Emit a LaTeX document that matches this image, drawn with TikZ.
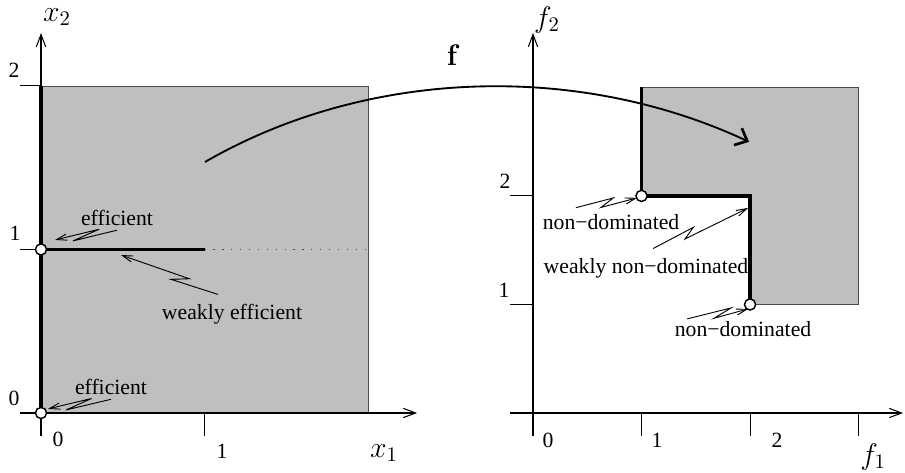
\documentclass[tikz,border=0pt]{standalone}
\usepackage[no-math]{fontspec}
\setmainfont{Liberation Serif}
\usetikzlibrary{calc,arrows.meta}

\begin{document}
\begin{tikzpicture}[
		axis/.style={-{Straight Barb[length=6pt,width=4.5pt]}, line width=0.5pt},
		tick/.style={line width=0.5pt},
		region/.style={fill=gray!50, draw=black!70, line width=0.4pt},
		front/.style={line width=1.6pt},
		dotline/.style={black!70, line width=0.6pt, dash pattern=on 0.6pt off 3.7pt},
		point/.style={circle, draw, fill=white, line width=0.7pt, inner sep=0pt, minimum size=5.4pt},
		lab/.style={font=\fontsize{14.4}{16}\selectfont},
		num/.style={font=\fontsize{10.5}{12}\selectfont},
		note/.style={font=\fontsize{10.5}{12}\selectfont, inner sep=2pt},
		pointer/.style={-{Straight Barb[length=5pt,width=3pt]}, line width=0.45pt},
		zig/.style 2 args={to path={
				-- ($(\tikztostart)!#1!(\tikztotarget)!1.8pt!90:(\tikztotarget)$)
				-- ($(\tikztostart)!#2!(\tikztotarget)!1.8pt!-90:(\tikztotarget)$)
				-- (\tikztotarget) \tikztonodes}},
		mapping/.style={-{Straight Barb[length=5pt,width=9pt,line width=1.3pt]}, line width=0.9pt}
	]
	
	% Parameters
	\def\uL{2.78}  % decision space unit
	\def\uR{1.845} % objective space unit
	
	\useasboundingbox (0,0) rectangle (15.385,8.041);
	
	% Decision space
	\begin{scope}[shift={(0.697,1.02)}, x=\uL cm, y=\uL cm]
		\draw[region] (0,0) rectangle (2,2);
		\draw[dotline] (1,1) -- (2,1);
		
		\draw[axis] (-0.128,0) -- (2.30,0);
		\draw[axis] (0,-0.14) -- (0,2.324);
		\draw[tick] (1,0) -- (1,-0.14);
		\foreach \y in {1,2} {
			\draw[tick] (-0.128,\y) -- (0,\y);
		}
		
		\node[num] at (-0.165,0.092) {0};
		\node[num] at (-0.159,1.10) {1};
		\node[num] at (-0.165,2.098) {2};
		\node[num] at (0.104,-0.159) {0};
		\node[num] at (1.107,-0.232) {1};
		\node[lab] at (2.098,-0.245) {$x_1$};
		\node[lab] at (0.098,2.422) {$x_2$};
		
		\draw[front] (0,0) -- (0,2);
		\draw[front] (0,1) -- (1,1);
		\node[point] (pA) at (0,1) {};
		\node[point] (pB) at (0,0) {};
		
		\node[note] (effA) at (0.465,1.193) {efficient};
		\node[note] (effB) at (0.428,0.159) {efficient};
		\node[note] (weff) at (1.168,0.606) {weakly efficient};
		\coordinate (tipA) at (0.086,1.058);
		\coordinate (tipB) at (0.043,0.025);
		\coordinate (tipW) at (0.489,0.966);
		\coordinate (fstart) at (1.003,1.535);
	\end{scope}
	
	% Objective space
	\begin{scope}[shift={(9.061,1.02)}, x=\uR cm, y=\uR cm]
		\draw[region] (1,3) -- (3,3) -- (3,1) -- (2,1) -- (2,2) -- (1,2) -- cycle;
		
		\draw[axis] (-0.212,0) -- (3.41,0);
		\draw[axis] (0,-0.212) -- (0,3.502);
		\foreach \x in {1,2,3} {
			\draw[tick] (\x,0) -- (\x,-0.212);
		}
		\foreach \y in {1,2} {
			\draw[tick] (-0.212,\y) -- (0,\y);
		}
		
		\node[num] at (0.138,-0.249) {0};
		\node[num] at (1.143,-0.249) {1};
		\node[num] at (2.249,-0.249) {2};
		\node[num] at (-0.267,1.134) {1};
		\node[num] at (-0.258,2.138) {2};
		\node[lab] at (3.134,-0.406) {$f_1$};
		\node[lab] at (0.129,3.622) {$f_2$};
		
		\draw[front] (1,3) -- (1,2) -- (2,2) -- (2,1);
		\node[point] (pC) at (1,2) {};
		\node[point] (pD) at (2,1) {};
		
		\node[note] (ndA) at (0.719,1.760) {non−dominated};
		\node[note] (wnd) at (1.041,1.336) {weakly non−dominated};
		\node[note] (ndB) at (1.935,0.774) {non−dominated};
		\coordinate (tipC) at (0.959,1.982);
		\coordinate (tipD) at (1.982,1.889);
		\coordinate (tipE) at (1.982,0.959);
		\coordinate (fend) at (1.991,2.498);
	\end{scope}
	
	% Mapping
	\draw[mapping] (fstart) .. controls +(30:3.2) and +(155:3.2) .. (fend)
	node[lab, midway, xshift=-10pt, yshift=15.5pt] {$\mathbf{f}$};
	
	% Pointers
	\draw[pointer] (effA.south) to[zig={0.72}{0.28}] (tipA);
	\draw[pointer] (effB.south) to[zig={0.72}{0.30}] (tipB);
	\draw[pointer] ($(weff.north)+(-6.8pt,2.4pt)$) to[zig={0.47}{0.31}] (tipW);
	\draw[pointer] ($(ndA.north)+(-17pt,1pt)$) to[zig={0.62}{0.40}] (tipC);
	\draw[pointer] ($(wnd.north)+(3.4pt,2.4pt)$) to[zig={0.44}{0.32}] (tipD);
	\draw[pointer] ($(ndB.north)+(-27pt,-1pt)$) to[zig={0.73}{0.43}] (tipE);
	
\end{tikzpicture}
\end{document}
